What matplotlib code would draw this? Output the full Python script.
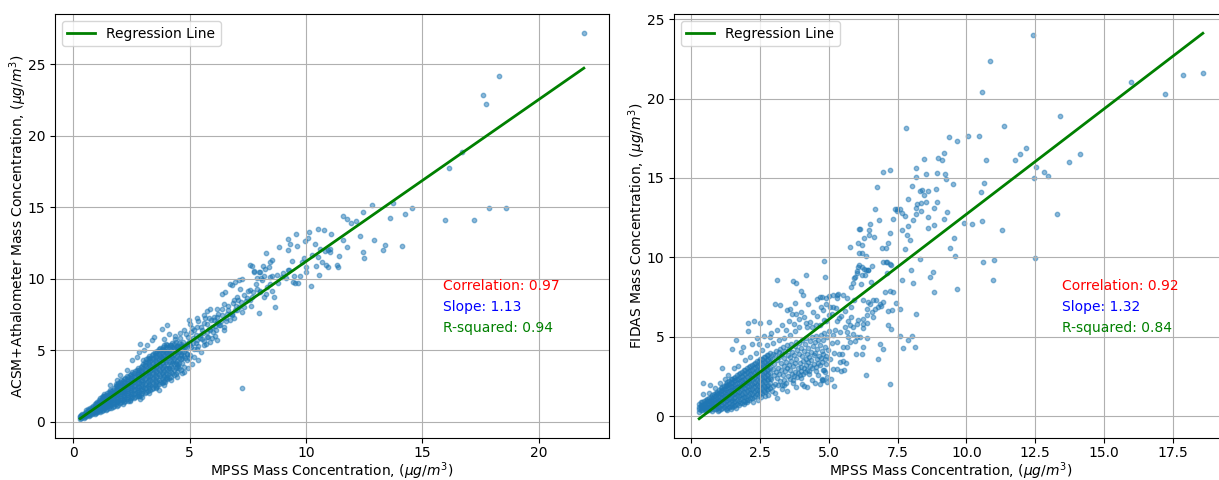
import numpy as np
import matplotlib
matplotlib.use("Agg")
import matplotlib.pyplot as plt

# ---- left panel: MPSS vs ACSM+Athalometer ----
# dense core, one x per column with the y values seen in that column
acsm_core_x = [0.30, 0.35, 0.40, 0.45, 0.50, 0.56, 0.62, 0.68, 0.74, 0.80,
               0.86, 0.92, 0.98, 1.04, 1.10, 1.16, 1.22, 1.28, 1.34, 1.40,
               1.46, 1.52, 1.58, 1.64, 1.70, 1.76, 1.82, 1.88, 1.94, 2.00,
               2.06, 2.12, 2.18, 2.24, 2.30, 2.36, 2.42, 2.48, 2.54, 2.60,
               2.66, 2.72, 2.78, 2.84, 2.90, 2.96, 3.02, 3.08, 3.14, 3.20,
               3.26, 3.32, 3.38, 3.44, 3.50, 3.56, 3.62, 3.68, 3.74, 3.80,
               3.86, 3.92, 3.98, 4.05, 4.12, 4.19, 4.26, 4.33, 4.40, 4.47,
               4.54, 4.61, 4.68, 4.75, 4.82, 4.89, 4.96]
acsm_core_y = [
    [0.20, 0.30, 0.40], [0.26, 0.36, 0.48],
    [0.30, 0.42, 0.55], [0.28, 0.40, 0.52],
    [0.30, 0.44, 0.58], [0.38, 0.52, 0.66, 0.78],
    [0.44, 0.60, 0.74, 0.86], [0.40, 0.54, 0.70, 0.84],
    [0.44, 0.60, 0.78, 0.92], [0.52, 0.68, 0.86, 1.00],
    [0.58, 0.76, 0.94, 1.10], [0.52, 0.68, 0.86, 1.04, 1.20],
    [0.58, 0.76, 0.95, 1.14, 1.30], [0.66, 0.84, 1.04, 1.24, 1.40],
    [0.72, 0.94, 1.14, 1.34, 1.50], [0.64, 0.84, 1.04, 1.24, 1.46, 1.62],
    [0.72, 0.92, 1.12, 1.34, 1.56, 1.70], [0.80, 1.02, 1.22, 1.44, 1.66, 1.80],
    [0.90, 1.10, 1.32, 1.54, 1.76, 1.92], [0.80, 1.00, 1.22, 1.44, 1.66, 1.88],
    [0.86, 1.08, 1.30, 1.52, 1.76, 1.98], [0.96, 1.18, 1.40, 1.64, 1.88, 2.08],
    [1.06, 1.30, 1.52, 1.76, 2.00, 2.18], [0.96, 1.20, 1.42, 1.66, 1.90, 2.14],
    [1.02, 1.26, 1.50, 1.74, 1.98, 2.24], [1.12, 1.36, 1.60, 1.84, 2.08, 2.34],
    [1.22, 1.46, 1.72, 1.96, 2.22, 2.46, 2.62], [1.12, 1.36, 1.60, 1.84, 2.08, 2.34, 2.56],
    [1.18, 1.42, 1.68, 1.94, 2.20, 2.46, 2.70], [1.28, 1.52, 1.78, 2.04, 2.30, 2.56, 2.80],
    [1.38, 1.64, 1.90, 2.16, 2.42, 2.68, 2.92], [1.26, 1.50, 1.78, 2.04, 2.30, 2.56, 2.82],
    [1.34, 1.60, 1.88, 2.14, 2.42, 2.70, 2.98], [1.44, 1.70, 1.98, 2.24, 2.52, 2.80, 3.08],
    [1.56, 1.84, 2.12, 2.40, 2.68, 2.96, 3.22], [1.44, 1.72, 2.00, 2.28, 2.56, 2.84, 3.12],
    [1.52, 1.80, 2.08, 2.36, 2.66, 2.94, 3.24], [1.62, 1.90, 2.18, 2.46, 2.76, 3.04, 3.34],
    [1.74, 2.02, 2.32, 2.62, 2.92, 3.22, 3.46], [1.62, 1.90, 2.20, 2.50, 2.80, 3.10, 3.38],
    [1.70, 1.98, 2.28, 2.58, 2.90, 3.20, 3.52], [1.80, 2.08, 2.38, 2.68, 3.00, 3.30, 3.62],
    [1.92, 2.22, 2.52, 2.84, 3.16, 3.48, 3.74], [1.80, 2.10, 2.40, 2.72, 3.04, 3.36, 3.64],
    [1.88, 2.18, 2.50, 2.82, 3.14, 3.46, 3.80], [1.98, 2.28, 2.60, 2.92, 3.24, 3.56, 3.90],
    [2.12, 2.44, 2.76, 3.10, 3.42, 3.76, 4.06, 4.28], [2.00, 2.32, 2.64, 2.98, 3.30, 3.64, 3.96, 4.18],
    [2.06, 2.38, 2.72, 3.06, 3.40, 3.74, 4.08, 4.36], [2.16, 2.48, 2.82, 3.16, 3.50, 3.84, 4.18, 4.46],
    [2.32, 2.66, 3.00, 3.34, 3.68, 4.02, 4.36, 4.58], [2.20, 2.54, 2.88, 3.22, 3.56, 3.90, 4.24, 4.48],
    [2.26, 2.60, 2.96, 3.30, 3.66, 4.00, 4.36, 4.66], [2.36, 2.70, 3.06, 3.40, 3.76, 4.10, 4.46, 4.76],
    [2.54, 2.88, 3.24, 3.60, 3.96, 4.30, 4.64, 4.88], [2.42, 2.76, 3.12, 3.48, 3.84, 4.18, 4.52, 4.78],
    [2.50, 2.84, 3.20, 3.56, 3.92, 4.28, 4.64, 4.95], [2.60, 2.94, 3.30, 3.66, 4.02, 4.38, 4.74, 5.05],
    [2.80, 3.16, 3.52, 3.88, 4.24, 4.60, 4.94, 5.18], [2.68, 3.04, 3.40, 3.76, 4.12, 4.48, 4.82, 5.08],
    [2.74, 3.10, 3.46, 3.82, 4.20, 4.56, 4.92, 5.24], [2.84, 3.20, 3.56, 3.92, 4.30, 4.66, 5.02, 5.34],
    [3.06, 3.42, 3.78, 4.14, 4.52, 4.88, 5.22, 5.46], [2.96, 3.32, 3.68, 4.04, 4.42, 4.78, 5.12, 5.36],
    [3.02, 3.40, 3.76, 4.14, 4.50, 4.88, 5.24], [3.12, 3.50, 3.86, 4.24, 4.60, 4.98, 5.34],
    [3.38, 3.74, 4.12, 4.50, 4.86, 5.22, 5.52], [3.28, 3.64, 4.02, 4.40, 4.76, 5.12, 5.42],
    [3.36, 3.74, 4.12, 4.50, 4.86, 5.22, 5.60], [3.46, 3.84, 4.22, 4.60, 4.96, 5.32],
    [3.72, 4.10, 4.48, 4.86, 5.22, 5.50], [3.62, 4.38, 4.76, 5.40],
    [4.10, 4.86, 5.22], [3.82, 4.58, 5.32],
    [4.46, 5.22], [4.74, 5.42],
    [4.48, 5.60],
]
# scattered points
acsm_x = [21.93, 18.30, 17.62, 17.74, 16.70, 16.15, 12.83, 12.45,
          13.73, 13.59, 14.25, 14.53, 15.98, 17.21, 17.87, 18.60,
          12.93, 13.37, 13.30, 14.12, 12.43, 12.50, 11.59, 11.76,
          11.94, 12.16, 11.60, 11.04, 10.51, 10.13, 10.07, 9.97,
          9.57, 9.23, 9.31, 9.60, 8.85, 9.24, 8.28, 8.52,
          9.41, 10.61, 10.83, 10.93, 10.50, 9.84, 9.98, 10.44,
          10.84, 10.93, 11.33, 11.37, 10.56, 9.98, 10.20, 7.67,
          7.78, 8.17, 8.22, 8.40, 8.47, 8.01, 7.90, 8.05,
          8.18, 8.47, 8.54, 8.76, 8.97, 9.15, 9.21, 9.50,
          9.66, 9.54, 9.44, 8.68, 7.98, 8.61, 7.25, 4.03,
          3.82, 3.49, 3.39, 3.89, 4.10, 2.82, 2.75, 2.53,
          3.03, 3.18, 2.89, 2.03, 1.60, 2.32, 1.89, 4.96,
          5.00, 5.32, 5.61, 5.75, 5.89, 4.75, 5.18, 6.39,
          6.54, 6.75, 6.82, 6.97, 7.11, 7.25, 7.61, 7.75,
          7.97, 5.47, 5.75, 5.89, 6.18, 6.32, 6.61, 6.46,
          6.18, 6.03, 6.89, 7.04, 7.32, 7.61, 7.90, 8.04,
          8.33, 8.47, 8.18, 7.61, 7.32, 7.04, 6.75, 6.46,
          6.18, 5.75, 5.32, 5.32, 5.61, 5.89, 5.18, 4.89,
          5.03, 4.75, 4.46, 4.89, 4.03, 3.96, 3.67, 2.89,
          2.46, 2.82, 4.22, 4.33, 4.47, 4.64, 4.71, 4.83,
          4.92, 5.04, 5.13, 5.26, 5.31, 5.43, 5.57, 5.62,
          5.74, 5.83, 5.96, 6.04, 6.12, 6.23, 6.35, 6.41,
          6.55, 6.63, 6.72, 6.86, 6.93, 7.06, 7.14, 7.18,
          7.43, 7.52, 7.68, 7.84, 8.03, 8.12, 4.38, 4.57,
          4.17, 4.02, 3.79, 4.13, 4.28, 4.52, 4.68, 5.03,
          5.21, 5.38, 5.63, 5.78, 6.02, 6.28, 5.48, 5.71,
          6.11, 6.48, 6.92, 7.27, 7.63, 8.27, 8.52, 8.78,
          9.03, 9.28, 9.72, 9.91, 10.27, 10.69, 11.02, 11.78,
          12.31, 11.09, 10.79, 10.38, 11.42, 4.36, 4.58, 4.85,
          5.12, 5.35, 5.53, 5.66, 5.92, 6.16, 6.38, 6.66,
          6.81, 7.01, 7.21, 7.46, 7.71, 4.94, 5.16, 5.44,
          5.84, 6.07, 6.24, 6.58, 6.84, 4.63, 4.77, 5.06,
          5.29, 5.55, 5.95, 3.55, 3.88, 4.22, 4.44, 4.66,
          4.93, 5.12, 5.36, 3.25, 2.95]
acsm_y = [27.18, 24.20, 22.88, 22.22, 18.86, 17.73, 15.14, 14.67,
          15.30, 14.27, 14.55, 14.95, 14.13, 14.08, 14.97, 14.97,
          12.68, 12.37, 12.02, 12.28, 11.88, 11.42, 14.39, 14.15,
          13.92, 14.01, 12.70, 12.05, 13.45, 13.26, 12.86, 12.65,
          13.10, 12.75, 12.42, 12.26, 12.23, 11.98, 11.77, 11.30,
          11.25, 12.09, 11.93, 12.00, 11.53, 11.16, 10.79, 10.88,
          10.93, 10.83, 10.95, 10.79, 10.25, 10.46, 9.52, 10.88,
          10.55, 10.88, 10.69, 10.83, 11.18, 10.46, 10.06, 10.08,
          10.20, 10.13, 10.20, 10.25, 10.13, 10.08, 10.60, 10.18,
          9.71, 9.71, 9.78, 8.02, 7.60, 8.72, 2.36, 6.78,
          6.48, 5.92, 5.73, 5.80, 6.10, 4.86, 4.51, 4.28,
          4.98, 5.33, 5.45, 3.23, 2.53, 3.58, 2.88, 7.09,
          6.86, 7.28, 7.44, 7.74, 7.91, 6.39, 6.39, 8.96,
          9.07, 9.66, 9.54, 9.78, 9.89, 10.01, 10.95, 10.48,
          10.48, 6.62, 6.86, 6.39, 6.97, 6.74, 7.56, 8.26,
          7.91, 7.32, 8.49, 8.72, 8.84, 9.19, 9.31, 9.07,
          9.42, 9.66, 8.72, 8.49, 8.02, 7.79, 7.09, 6.39,
          5.68, 5.92, 5.68, 5.10, 5.33, 5.56, 4.51, 4.75,
          5.33, 3.46, 4.05, 4.28, 3.11, 2.76, 2.18, 1.59,
          1.47, 1.82, 4.63, 5.12, 5.31, 4.66, 5.58, 5.07,
          5.91, 6.27, 5.52, 6.08, 6.62, 5.85, 6.21, 6.93,
          6.28, 7.22, 6.64, 7.09, 6.41, 7.52, 7.02, 7.91,
          7.25, 8.11, 7.52, 8.33, 7.84, 8.52, 8.02, 9.31,
          8.41, 9.12, 8.73, 9.62, 9.15, 9.88, 5.78, 6.18,
          5.36, 4.84, 4.55, 3.74, 4.26, 3.86, 4.43, 4.64,
          5.06, 5.27, 5.66, 5.94, 6.27, 6.75, 4.86, 5.45,
          5.96, 6.63, 7.26, 7.64, 8.06, 8.95, 9.14, 9.67,
          10.42, 10.63, 10.17, 11.48, 11.63, 11.18, 11.84, 12.21,
          13.02, 13.12, 13.41, 12.44, 11.58, 6.02, 5.84, 6.12,
          6.55, 7.01, 6.44, 7.25, 7.08, 7.33, 7.44, 7.81,
          7.55, 8.07, 8.38, 8.66, 9.07, 5.46, 5.86, 6.04,
          6.46, 6.69, 6.87, 7.05, 7.45, 5.28, 4.92, 5.21,
          5.47, 5.77, 5.82, 2.32, 2.56, 2.88, 3.15, 3.38,
          3.72, 4.02, 4.31, 2.02, 1.74]
acsm_slope, acsm_intercept = 1.134, -0.13
acsm_corr, acsm_r2 = 0.97, 0.94

# ---- right panel: MPSS vs FIDAS ----
fidas_core_x = [0.28, 0.34, 0.40, 0.46, 0.52, 0.58, 0.64, 0.70, 0.76, 0.82,
                0.88, 0.94, 1.00, 1.06, 1.12, 1.18, 1.24, 1.30, 1.36, 1.42,
                1.48, 1.54, 1.60, 1.66, 1.72, 1.78, 1.84, 1.90, 1.96, 2.02,
                2.08, 2.14, 2.20, 2.26, 2.32, 2.38, 2.44, 2.50, 2.56, 2.62,
                2.68, 2.74, 2.80, 2.86]
fidas_core_y = [
    [0.30, 0.46, 0.62, 0.78], [0.40, 0.56, 0.72, 0.90],
    [0.38, 0.54, 0.70, 0.88], [0.46, 0.62, 0.80, 0.98],
    [0.34, 0.50, 0.68, 0.86, 1.02], [0.40, 0.60, 0.78, 0.96, 1.12],
    [0.42, 0.60, 0.78, 0.96, 1.14], [0.48, 0.68, 0.86, 1.06, 1.24],
    [0.36, 0.56, 0.76, 0.96, 1.16, 1.32], [0.44, 0.64, 0.86, 1.06, 1.26, 1.42],
    [0.46, 0.66, 0.88, 1.08, 1.28, 1.46], [0.52, 0.74, 0.96, 1.18, 1.38, 1.56],
    [0.40, 0.62, 0.84, 1.06, 1.28, 1.50, 1.68], [0.48, 0.72, 0.94, 1.16, 1.38, 1.60, 1.78],
    [0.50, 0.74, 0.98, 1.20, 1.42, 1.64, 1.84], [0.60, 0.84, 1.08, 1.30, 1.52, 1.74, 1.94],
    [0.46, 0.70, 0.94, 1.18, 1.42, 1.66, 1.90, 2.05], [0.54, 0.80, 1.04, 1.28, 1.52, 1.76, 2.00, 2.14],
    [0.58, 0.84, 1.08, 1.34, 1.58, 1.82, 2.06, 2.22], [0.68, 0.94, 1.18, 1.44, 1.68, 1.92, 2.16, 2.32],
    [0.56, 0.80, 1.06, 1.32, 1.58, 1.84, 2.10, 2.34], [0.66, 0.90, 1.16, 1.42, 1.68, 1.94, 2.20, 2.44],
    [0.70, 0.96, 1.22, 1.50, 1.76, 2.02, 2.28, 2.50], [0.80, 1.06, 1.32, 1.60, 1.86, 2.12, 2.38, 2.60],
    [0.72, 0.98, 1.26, 1.54, 1.82, 2.10, 2.38, 2.64], [0.82, 1.08, 1.36, 1.64, 1.92, 2.20, 2.48, 2.74],
    [0.86, 1.14, 1.42, 1.70, 1.98, 2.26, 2.54, 2.80], [0.96, 1.24, 1.52, 1.80, 2.08, 2.36, 2.64, 2.90],
    [0.92, 1.20, 1.48, 1.78, 2.06, 2.36, 2.66, 2.94], [1.02, 1.30, 1.58, 1.88, 2.16, 2.46, 2.76, 3.04],
    [1.06, 1.34, 1.64, 1.94, 2.24, 2.54, 2.84, 3.10], [1.16, 1.44, 1.74, 2.04, 2.34, 2.64, 2.94, 3.20],
    [1.14, 1.42, 1.72, 2.02, 2.32, 2.62, 2.92, 3.22], [1.24, 1.52, 1.82, 2.12, 2.42, 2.72, 3.02, 3.32],
    [1.28, 1.58, 1.88, 2.18, 2.48, 2.78, 3.08, 3.36], [1.38, 1.68, 1.98, 2.28, 2.58, 2.88, 3.18, 3.46],
    [1.34, 1.64, 1.94, 2.24, 2.56, 2.86, 3.18, 3.48], [1.44, 1.74, 2.04, 2.34, 2.66, 2.96, 3.28, 3.58],
    [1.50, 1.80, 2.10, 2.40, 2.72, 3.02, 3.34, 3.62], [1.60, 1.90, 2.20, 2.50, 2.82, 3.12, 3.44, 3.72],
    [1.54, 1.84, 2.16, 2.48, 2.80, 3.12, 3.44, 3.74], [1.64, 1.94, 2.26, 2.58, 2.90, 3.22, 3.54, 3.84],
    [1.70, 2.00, 2.32, 2.64, 2.96, 3.28, 3.60, 3.88], [1.80, 2.10, 2.42, 2.74, 3.06, 3.38, 3.70, 3.98],
]
# looser part of the cloud, 2.9 < MPSS < 5
fidas_band_x = [2.91, 2.93, 2.95, 2.96, 2.98, 3.00, 3.02, 3.03, 3.05, 3.07, 3.08, 3.10,
                3.12, 3.13, 3.15, 3.17, 3.18, 3.20, 3.22, 3.23, 3.25, 3.27, 3.28, 3.30,
                3.32, 3.33, 3.35, 3.37, 3.38, 3.40, 3.42, 3.43, 3.45, 3.47, 3.48, 3.50,
                3.52, 3.53, 3.55, 3.57, 3.58, 3.60, 3.62, 3.63, 3.65, 3.67, 3.68, 3.70,
                3.72, 3.73, 3.75, 3.77, 3.78, 3.80, 3.82, 3.83, 3.85, 3.87, 3.88, 3.90,
                3.92, 3.93, 3.95, 3.97, 3.98, 4.00, 4.02, 4.03, 4.05, 4.07, 4.08, 4.10,
                4.12, 4.13, 4.15, 4.17, 4.18, 4.20, 4.22, 4.23, 4.25, 4.27, 4.28, 4.30,
                4.32, 4.34, 4.36, 4.38, 4.40, 4.42, 4.44, 4.46, 4.48, 4.50, 4.52, 4.54,
                4.56, 4.58, 4.60, 4.62, 4.64, 4.66, 4.68, 4.70, 4.72, 4.74, 4.76, 4.78,
                4.80, 4.82, 4.85, 4.87, 4.90, 4.93]
fidas_band_y = [2.34, 3.61, 1.88, 2.97, 3.95, 2.62, 3.28, 2.05, 3.84, 2.81, 4.12, 2.44,
                3.52, 1.96, 3.05, 4.02, 2.69, 3.71, 2.22, 4.25, 3.36, 2.91, 1.99, 3.92,
                2.58, 4.36, 3.14, 2.27, 3.66, 4.11, 2.83, 3.42, 2.11, 4.48, 3.02, 3.88,
                2.52, 4.27, 3.24, 2.36, 3.71, 2.94, 4.55, 3.48, 2.68, 4.08, 2.29, 3.17,
                3.86, 2.57, 4.42, 3.33, 2.82, 4.70, 3.61, 2.46, 4.18, 3.05, 2.73, 3.94,
                4.61, 3.38, 2.61, 4.29, 3.12, 2.88, 3.77, 4.82, 2.69, 3.49, 4.12, 3.02,
                2.81, 4.55, 3.64, 3.26, 4.91, 2.94, 3.92, 3.41, 4.33, 2.88, 3.72, 4.72,
                3.18, 4.06, 3.55, 4.98, 3.02, 4.41, 3.83, 3.29, 4.67, 3.96, 3.12, 5.06,
                3.58, 4.24, 3.34, 4.82, 3.82, 4.46, 3.21, 5.12, 3.66, 4.14, 3.44, 4.78,
                3.92, 5.26, 3.58, 4.36, 3.79, 4.98]
fidas_x = [12.42, 10.87, 10.56, 15.98, 17.21, 17.87, 18.60, 13.39,
           11.36, 7.82, 9.36, 9.64, 10.07, 10.45, 12.16, 11.95,
           11.76, 14.12, 13.73, 10.71, 9.19, 8.96, 9.11, 8.47,
           8.18, 6.98, 7.22, 12.53, 12.83, 12.95, 12.45, 8.16,
           8.54, 8.92, 9.22, 9.25, 10.64, 10.53, 9.51, 8.02,
           6.76, 7.86, 8.30, 8.37, 8.59, 8.45, 8.90, 8.52,
           8.92, 8.19, 8.34, 8.83, 8.16, 8.36, 6.66, 6.81,
           7.40, 7.49, 7.58, 7.46, 7.34, 7.65, 7.77, 8.04,
           8.15, 7.86, 7.66, 7.83, 7.95, 8.61, 8.60, 8.82,
           9.20, 9.29, 9.56, 9.41, 9.59, 9.93, 10.20, 10.56,
           11.30, 12.50, 10.99, 10.59, 10.95, 13.30, 9.67, 8.82,
           8.00, 8.07, 7.67, 8.67, 8.79, 7.78, 8.32, 7.10,
           7.12, 7.24, 6.98, 7.34, 7.22, 7.04, 5.76, 6.10,
           6.45, 6.50, 6.27, 6.20, 6.21, 6.05, 6.07, 6.35,
           6.55, 6.21, 5.93, 6.16, 6.53, 5.80, 5.89, 6.27,
           6.43, 8.16, 7.58, 7.43, 7.15, 7.29, 7.24, 7.14,
           6.85, 6.98, 6.91, 6.79, 6.73, 6.61, 6.49, 6.67,
           6.55, 6.37, 6.43, 6.25, 6.61, 6.37, 6.25, 7.58,
           7.86, 8.03, 7.71, 8.13, 6.85, 6.95, 6.79, 6.33,
           7.22, 6.37, 6.25, 5.98, 6.19, 5.95, 6.01, 5.88,
           6.13, 5.70, 5.77, 5.64, 5.46, 5.52, 5.40, 5.52,
           5.28, 5.43, 5.16, 5.22, 5.40, 5.58, 5.64, 5.88,
           6.01, 5.77, 6.07, 6.25, 6.37, 6.23, 5.82, 4.73,
           4.79, 5.04, 5.16, 5.28, 5.34, 4.91, 5.10, 4.85,
           4.73, 4.79, 4.85, 4.79, 4.90, 5.00, 5.10, 4.95,
           5.20, 5.30, 5.05, 4.90, 5.35, 5.15, 5.30, 5.45,
           5.00, 5.25, 4.10, 4.50, 6.08, 6.35, 6.09, 6.19,
           6.03, 6.01, 6.43, 6.31, 5.92, 6.14, 6.65, 6.47,
           6.92, 7.07, 7.16, 7.23, 7.06, 7.23, 5.00, 5.30,
           5.50, 5.65, 5.90, 5.15, 5.60, 5.80, 5.35, 5.70,
           0.41, 0.43, 0.67, 1.10, 1.46, 1.62, 2.07, 2.07,
           2.27, 2.49, 2.81, 3.12, 3.82, 3.68, 3.97, 4.04,
           4.67, 4.55, 3.04, 3.76, 3.60, 3.46, 3.64, 3.80,
           4.15, 4.82, 3.22, 4.25, 4.08, 4.31, 4.43, 4.58,
           4.71, 4.83, 4.88, 4.52, 4.19, 3.98, 3.91, 3.53,
           3.28, 3.12, 2.89, 2.62, 2.38, 2.21, 1.88, 1.79,
           3.72, 2.52, 2.78, 3.03, 3.31, 3.48, 3.82, 4.02,
           4.21, 4.38, 4.61, 4.75, 4.81, 4.92, 3.11, 2.22,
           1.91, 2.41, 4.94, 5.08, 5.19, 4.69, 5.55, 5.62,
           1.32, 1.55, 1.71, 1.95, 2.12, 2.35, 2.58, 2.74,
           2.96, 3.18, 3.35, 3.58, 3.78, 0.62, 0.84, 1.05,
           1.22, 2.46, 2.86, 3.44, 3.92, 4.18, 4.38, 4.66,
           1.62, 2.02, 2.66, 2.94, 3.36, 3.68, 3.98, 4.26,
           4.52, 1.30, 0.98, 1.44]
fidas_y = [24.00, 22.35, 20.40, 21.07, 20.29, 21.50, 21.60, 18.92,
           18.29, 18.15, 17.56, 17.33, 17.62, 17.62, 16.91, 16.49,
           16.11, 16.49, 16.03, 16.11, 16.59, 16.24, 16.15, 16.20,
           15.65, 15.36, 15.52, 15.71, 15.37, 15.10, 14.98, 15.06,
           15.23, 15.29, 15.25, 14.95, 14.68, 14.11, 14.62, 14.51,
           14.43, 13.69, 14.20, 14.24, 14.20, 13.95, 14.32, 13.50,
           13.52, 13.38, 13.40, 13.11, 13.10, 12.94, 13.04, 12.33,
           13.04, 13.04, 13.02, 12.90, 12.41, 12.78, 12.58, 12.35,
           12.71, 11.97, 11.74, 11.40, 11.11, 12.52, 11.85, 12.06,
           12.41, 12.85, 11.22, 10.57, 10.12, 12.14, 12.08, 12.29,
           11.72, 9.96, 9.83, 9.70, 8.55, 12.75, 8.00, 7.81,
           9.20, 8.40, 8.57, 8.78, 9.09, 10.52, 9.89, 9.70,
           9.03, 9.51, 9.70, 7.83, 7.87, 7.85, 10.65, 11.76,
           11.72, 12.10, 11.24, 10.78, 10.29, 10.88, 9.41, 9.20,
           9.45, 8.88, 8.74, 8.36, 8.46, 8.13, 8.40, 9.28,
           9.24, 6.41, 6.74, 7.16, 6.60, 6.72, 5.50, 5.75,
           7.10, 7.20, 6.93, 6.89, 7.30, 7.35, 7.10, 6.78,
           6.57, 6.78, 7.20, 7.35, 6.26, 6.36, 6.15, 5.04,
           4.79, 5.04, 4.30, 4.37, 4.58, 4.24, 3.63, 2.62,
           2.06, 4.90, 4.37, 3.95, 3.91, 4.75, 5.00, 5.21,
           5.00, 5.00, 4.68, 4.37, 3.95, 4.37, 3.42, 3.49,
           2.96, 2.86, 2.96, 5.42, 5.32, 5.63, 5.32, 5.63,
           5.84, 5.74, 6.05, 5.84, 5.88, 5.53, 6.26, 7.52,
           6.68, 6.89, 7.63, 7.63, 7.73, 7.10, 6.47, 8.78,
           2.37, 2.90, 2.79, 2.27, 6.00, 5.40, 4.60, 4.20,
           4.00, 4.70, 3.60, 3.30, 3.90, 5.10, 6.00, 6.30,
           6.40, 6.80, 1.90, 2.10, 10.31, 10.08, 9.51, 9.37,
           9.16, 8.99, 9.20, 8.88, 8.68, 11.76, 11.30, 11.40,
           10.60, 10.60, 10.94, 11.55, 9.70, 9.60, 7.55, 7.45,
           7.65, 7.45, 7.30, 6.90, 6.60, 6.90, 6.20, 6.00,
           2.12, 1.43, 1.95, 3.05, 4.24, 4.81, 5.86, 5.37,
           6.01, 5.88, 5.92, 8.60, 8.40, 8.53, 7.90, 7.62,
           7.52, 7.39, 7.10, 7.14, 6.74, 6.68, 6.47, 6.43,
           8.88, 9.77, 6.99, 7.10, 6.23, 5.96, 6.57, 6.34,
           6.86, 6.04, 7.46, 5.77, 5.63, 6.57, 6.14, 5.97,
           5.72, 5.44, 5.23, 5.06, 4.93, 4.57, 4.37, 4.06,
           5.83, 1.22, 1.33, 1.46, 1.73, 1.62, 1.87, 2.04,
           1.83, 2.27, 2.58, 2.30, 2.92, 2.47, 1.18, 0.93,
           0.78, 1.03, 2.18, 2.33, 1.92, 2.02, 2.90, 3.38,
           2.62, 3.02, 3.15, 3.55, 3.72, 3.96, 4.18, 4.46,
           4.62, 4.78, 4.96, 5.12, 5.36, 1.48, 1.77, 2.12,
           2.36, 4.56, 5.02, 5.46, 5.62, 5.86, 5.62, 5.74,
           0.52, 0.88, 1.28, 1.62, 1.98, 2.12, 2.42, 2.66,
           2.84, 0.42, 0.34, 0.48]
fidas_slope, fidas_intercept = 1.324, -0.52
fidas_corr, fidas_r2 = 0.92, 0.84

xlabel = "MPSS Mass Concentration, ($\\mu g/m^3$)"


def expand(core_x, core_y, x, y):
    xs = [cx for cx, ys in zip(core_x, core_y) for _ in ys] + x
    ys = [v for ys in core_y for v in ys] + y
    return np.array(xs), np.array(ys)


def draw_panel(ax, x, y, slope, intercept, corr, r2, ylabel):
    ax.scatter(x, y, s=10, alpha=0.5, color="tab:blue")
    line_x = np.array([x.min(), x.max()])
    ax.plot(line_x, slope * line_x + intercept, color="green", linewidth=2,
            label="Regression Line")
    ax.text(0.7, 0.35, f"Correlation: {corr:.2f}", transform=ax.transAxes, color="red")
    ax.text(0.7, 0.30, f"Slope: {slope:.2f}", transform=ax.transAxes, color="blue")
    ax.text(0.7, 0.25, f"R-squared: {r2:.2f}", transform=ax.transAxes, color="green")
    ax.tick_params(axis="x", pad=2.5)
    ax.set_xlabel(xlabel, labelpad=0)
    ax.set_ylabel(ylabel, labelpad=-1)
    ax.legend(loc="upper left")
    ax.grid(True)


fig = plt.figure(figsize=(12.19, 4.8), dpi=100)
ax1 = fig.add_axes([0.0451, 0.0875, 0.4545, 0.8833])
ax2 = fig.add_axes([0.5529, 0.0875, 0.4545, 0.8833])

x1, y1 = expand(acsm_core_x, acsm_core_y, acsm_x, acsm_y)
x2, y2 = expand(fidas_core_x, fidas_core_y, fidas_band_x + fidas_x, fidas_band_y + fidas_y)

draw_panel(ax1, x1, y1, acsm_slope, acsm_intercept, acsm_corr, acsm_r2,
           "ACSM+Athalometer Mass Concentration, ($\\mu g/m^3$)")
draw_panel(ax2, x2, y2, fidas_slope, fidas_intercept, fidas_corr, fidas_r2,
           "FIDAS Mass Concentration, ($\\mu g/m^3$)")

fig.savefig("out.png", dpi=100)
